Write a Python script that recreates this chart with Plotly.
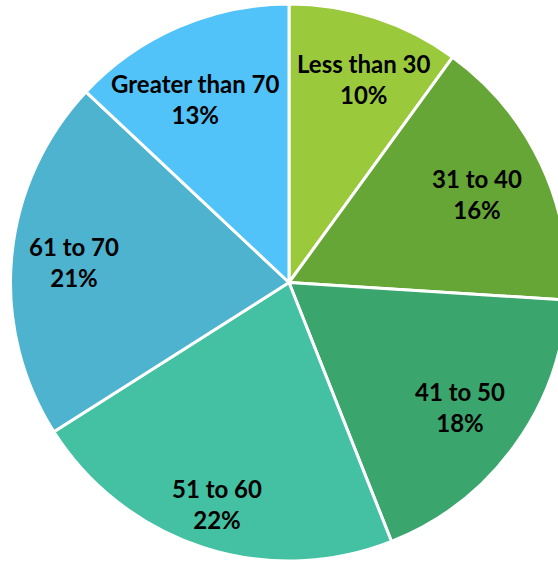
import math
import plotly.graph_objects as go

labels = ["Less than 30", "31 to 40", "41 to 50", "51 to 60", "61 to 70", "Greater than 70"]
values = [10, 16, 18, 22, 21, 13]
colors = ["#9ACA3C", "#65A637", "#3AA66D", "#44C1A3", "#4EB3CF", "#51C3F9"]

# styling: label placement relative to each slice's mid-angle
label_radius = [0.779, 0.745, 0.76, 0.835, 0.775, 0.739]
label_angle_shift = [2.2, 0.0, 0.0, 0.0, 0.0, -3.5]  # degrees

W, H = 568, 561
ML, MR, MT, MB = 10, 0, 4, 0
pw, ph = W - ML - MR, H - MT - MB
R = min(pw, ph) / 2.0

fig = go.Figure(go.Pie(
    labels=labels,
    values=values,
    sort=False,
    direction="clockwise",
    rotation=0,
    marker=dict(colors=colors, line=dict(color="white", width=3)),
    textinfo="none",
    hoverinfo="skip",
    showlegend=False,
    domain=dict(x=[0, 1], y=[0, 1]),
))

total = sum(values)
cum = 0
for lab, v, rr, sh in zip(labels, values, label_radius, label_angle_shift):
    mid = (cum + v / 2) / total * 2 * math.pi + math.radians(sh)
    cum += v
    dx = rr * R * math.sin(mid)
    dy = rr * R * math.cos(mid)
    fig.add_annotation(
        x=0.5 + dx / pw, y=0.5 + dy / ph,
        xref="paper", yref="paper",
        text=f"<b>{lab}</b><br><b>{round(v / total * 100)}%</b>",
        showarrow=False,
        font=dict(family="Lato", size=24, color="black"),
        align="center",
        xanchor="center", yanchor="middle",
    )

fig.update_layout(
    width=W, height=H,
    margin=dict(l=ML, r=MR, t=MT, b=MB),
    paper_bgcolor="white",
    plot_bgcolor="white",
)
fig.write_html(
    "out.html",
    config={"displayModeBar": False},
    post_script="document.body.style.overflow='hidden';document.body.style.margin='0';",
)
